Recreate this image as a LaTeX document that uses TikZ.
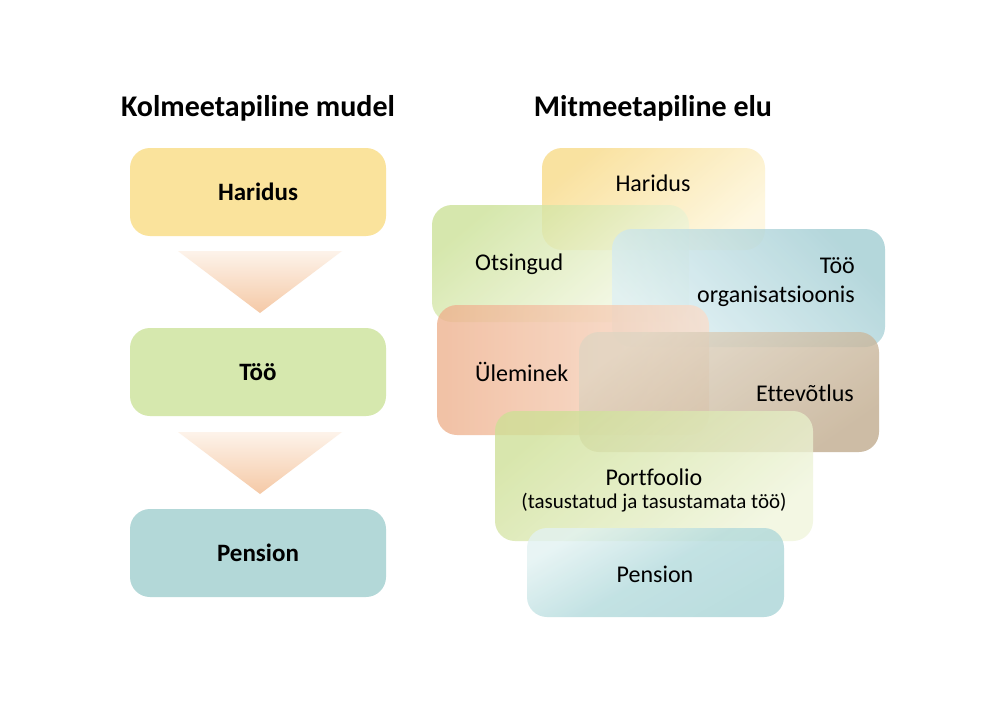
\documentclass[tikz,border=0pt]{standalone}
\usepackage{fontspec}
\setmainfont{Carlito}[Ligatures=CommonOff]
\definecolor{lyel}{HTML}{FAE39C}
\definecolor{lgrn}{HTML}{D6E8AE}
\definecolor{ltea}{HTML}{B3D8D8}
\definecolor{trtop}{HTML}{FDF3EA}
\definecolor{trbot}{HTML}{F5C9A6}
\begin{document}
\begin{tikzpicture}[x=1pt,y=-1pt,
  lbox/.style={rounded corners=20pt, minimum width=256pt, minimum height=88pt, inner sep=0pt, font=\fontsize{25}{29}\selectfont\bfseries},
  rbox/.style={rounded corners=20pt, inner sep=0pt, fill opacity=0.78},
  rtext/.style={font=\fontsize{24}{29}\selectfont, inner sep=0pt},
  title/.style={font=\fontsize{30}{34}\selectfont\bfseries, inner sep=0pt},
  tri/.style={top color=trtop, bottom color=trbot}
]
\useasboundingbox (0,0) rectangle (999,709);
\fill[white] (0,0) rectangle (999,709);

% titles
\node[title] (t1) at (258,108) {Kolmeetapiline mudel};
\node[title] (t2) at (653,108) {Mitmeetapiline elu};

% left column
\node[lbox, fill=lyel] (lh) at (258,192) {Haridus};
\node[lbox, fill=lgrn] (lt) at (258,372) {Töö};
\node[lbox, fill=ltea] (lp) at (258,553) {Pension};
\shade[tri] (178,251) -- (342,251) -- (260,313) -- cycle;
\shade[tri] (178,432) -- (342,432) -- (260,494) -- cycle;

% right column
\node[rbox, minimum width=223pt, minimum height=102pt,
  top color={rgb,255:red,248;green,218;blue,134}, bottom color={rgb,255:red,254;green,246;blue,218}, shading angle=40] (rh) at (653.5,199) {};
\node[rtext] (rht) at (653,183) {Haridus};

\node[rbox, minimum width=257pt, minimum height=117pt,
  top color={rgb,255:red,203;green,225;blue,150}, bottom color={rgb,255:red,246;green,249;blue,232}, shading angle=40] (ro) at (560.5,263.5) {};
\node[rtext, anchor=west] (rot) at (475,264) {Otsingud};

\node[rbox, minimum width=273pt, minimum height=118pt,
  top color={rgb,255:red,160;green,204;blue,210}, bottom color={rgb,255:red,222;green,240;blue,244}, shading angle=-45] (rt) at (748.5,288) {};
\node[rtext, anchor=east, align=right] (rtt) at (855,282) {Töö\\organisatsioonis};

\node[rbox, minimum width=272pt, minimum height=130pt,
  left color={rgb,255:red,238;green,176;blue,140}, right color={rgb,255:red,249;green,222;blue,204}] (ru) at (573,370) {};
\node[rtext, anchor=west] (rut) at (475,372) {Üleminek};

\node[rbox, minimum width=300pt, minimum height=120pt,
  top color={rgb,255:red,224;green,213;blue,194}, bottom color={rgb,255:red,192;green,170;blue,140}, shading angle=35] (re) at (729,392) {};
\node[rtext, anchor=east] (ret) at (854,393) {Ettevõtlus};

\node[rbox, minimum width=318pt, minimum height=130pt,
  top color={rgb,255:red,206;green,224;blue,150}, bottom color={rgb,255:red,240;green,245;blue,220}, shading angle=40] (rp) at (654,476) {};
\node[rtext] (rpt) at (654,477) {Portfoolio};
\node[rtext, font=\fontsize{21}{25}\selectfont] (rps) at (654,503) {(tasustatud ja tasustamata töö)};

\node[rbox, minimum width=257pt, minimum height=89pt,
  top color={rgb,255:red,226;green,242;blue,242}, bottom color={rgb,255:red,168;green,212;blue,214}, middle color={rgb,255:red,178;green,218;blue,220}, shading angle=30] (rn) at (655.5,572.5) {};
\node[rtext] (rnt) at (655,574) {Pension};
\end{tikzpicture}
\end{document}
